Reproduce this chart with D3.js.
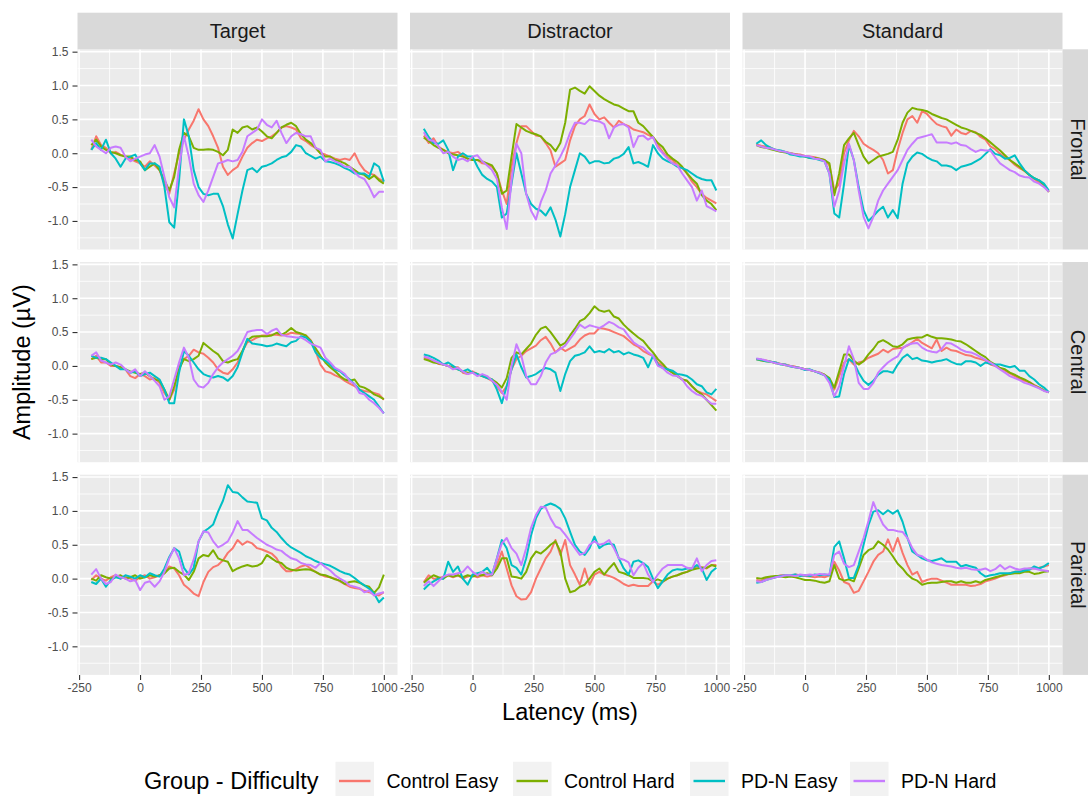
<!DOCTYPE html>
<html>
<head>
<meta charset="utf-8">
<script src="https://cdn.jsdelivr.net/npm/d3@7"></script>
<style>
  html, body { margin: 0; padding: 0; background: #ffffff; }
  svg { display: block; font-family: "Liberation Sans", Arial, Helvetica, sans-serif; }
</style>
</head>
<body>
<svg id="chart" width="1088" height="796"></svg>
<script>
// ---- Facets, groups and axis breaks ----
const conditions = ["Target", "Distractor", "Standard"];
const regions = ["Frontal", "Central", "Parietal"];
const groups = ["Control Easy", "Control Hard", "PD-N Easy", "PD-N Hard"];
const groupColors = ["#F8766D", "#7CAE00", "#00BFC4", "#C77CFF"];
const xTicks = [-250, 0, 250, 500, 750, 1000];
const xMinor = [-125, 125, 375, 625, 875];
const yTicks = [-1.0, -0.5, 0.0, 0.5, 1.0, 1.5];
const yMinor = [-1.25, -0.75, -0.25, 0.25, 0.75, 1.25];

// ---- Sample latencies (ms) ----
const latencyMs = [
  -200, -180, -160, -140, -120, -100, -80, -60, -40, -20,
  0, 20, 40, 60, 80, 100, 120, 140, 160, 180,
  200, 220, 240, 260, 280, 300, 320, 340, 360, 380,
  400, 420, 440, 460, 480, 500, 520, 540, 560, 580,
  600, 620, 640, 660, 680, 700, 720, 740, 760, 780,
  800, 820, 840, 860, 880, 900, 920, 940, 960, 980,
  1000
];

// ---- Grand-average amplitudes (µV) ----
// Target / Frontal
const tfCE = [0.05,0.25,0.12,0.08,0.00,0.02,-0.02,-0.05,-0.08,-0.12,
  -0.15,-0.20,-0.12,-0.18,-0.25,-0.45,-0.60,-0.30,0.00,0.20,
  0.35,0.48,0.65,0.50,0.40,0.25,0.08,-0.20,-0.32,-0.25,
  -0.20,-0.05,0.08,0.15,0.20,0.18,0.22,0.25,0.30,0.38,
  0.40,0.38,0.35,0.22,0.18,0.12,0.08,0.00,-0.02,-0.05,
  -0.08,-0.10,-0.08,-0.10,0.00,-0.15,-0.25,-0.30,-0.32,-0.38,
  -0.42];
const tfCH = [0.12,0.20,0.10,0.05,0.02,0.00,-0.03,-0.05,-0.05,-0.10,
  -0.12,-0.25,-0.20,-0.15,-0.25,-0.40,-0.55,-0.35,0.05,0.30,
  0.25,0.08,0.05,0.05,0.06,0.05,0.02,-0.03,0.05,0.35,
  0.30,0.38,0.40,0.35,0.38,0.32,0.25,0.22,0.30,0.38,
  0.42,0.45,0.40,0.28,0.20,0.15,0.08,0.00,-0.05,-0.05,
  -0.10,-0.12,-0.15,-0.20,-0.25,-0.30,-0.32,-0.38,-0.33,-0.40,
  -0.45];
const tfPE = [0.05,0.15,0.05,0.20,0.00,-0.08,-0.20,-0.08,-0.05,-0.02,
  -0.15,-0.25,-0.15,-0.15,-0.20,-0.50,-1.02,-1.10,-0.40,0.50,
  0.25,-0.25,-0.50,-0.60,-0.62,-0.60,-0.60,-0.78,-1.05,-1.26,
  -0.90,-0.55,-0.25,-0.22,-0.28,-0.20,-0.18,-0.15,-0.10,-0.06,
  -0.04,0.02,0.12,0.10,0.00,-0.04,-0.08,-0.05,-0.12,-0.13,
  -0.15,-0.18,-0.22,-0.25,-0.30,-0.30,-0.30,-0.35,-0.15,-0.20,
  -0.42];
const tfPH = [0.20,0.10,0.05,0.00,0.08,0.10,0.08,-0.05,-0.12,-0.08,
  -0.05,-0.02,0.00,0.12,-0.05,-0.35,-0.65,-0.80,-0.20,0.25,
  -0.05,-0.45,-0.62,-0.72,-0.55,-0.35,-0.15,-0.13,-0.10,-0.12,
  -0.10,0.02,0.25,0.30,0.35,0.50,0.42,0.38,0.48,0.30,
  0.15,0.25,0.30,0.28,0.25,0.25,0.08,0.05,-0.12,-0.08,
  -0.12,-0.15,-0.20,-0.20,-0.28,-0.35,-0.38,-0.50,-0.65,-0.57,
  -0.57];

// Distractor / Frontal
const dfCE = [0.26,0.15,0.22,0.10,0.05,0.02,0.00,0.02,-0.03,-0.08,
  -0.10,-0.10,-0.15,-0.16,-0.20,-0.30,-0.55,-0.75,-0.20,0.15,
  0.40,0.40,0.33,0.26,0.25,0.15,0.04,-0.20,-0.15,-0.10,
  0.19,0.40,0.50,0.55,0.72,0.58,0.50,0.53,0.45,0.38,
  0.48,0.43,0.40,0.35,0.33,0.31,0.27,0.24,0.12,0.02,
  -0.06,-0.10,-0.18,-0.22,-0.30,-0.42,-0.50,-0.60,-0.66,-0.70,
  -0.74];
const dfCH = [0.23,0.18,0.12,0.08,0.05,0.00,-0.02,-0.03,-0.05,-0.08,
  -0.10,-0.10,-0.12,-0.15,-0.18,-0.30,-0.60,-0.55,-0.05,0.43,
  0.38,0.33,0.30,0.28,0.25,0.17,0.12,0.03,0.15,0.45,
  0.94,0.97,0.92,0.88,0.99,0.92,0.85,0.80,0.76,0.72,
  0.70,0.66,0.62,0.62,0.45,0.40,0.32,0.24,0.15,0.09,
  -0.02,-0.08,-0.13,-0.20,-0.30,-0.38,-0.45,-0.62,-0.70,-0.75,
  -0.84];
const dfPE = [0.36,0.24,0.15,0.14,0.19,0.05,-0.25,-0.05,0.00,-0.05,
  -0.05,-0.20,-0.32,-0.38,-0.42,-0.50,-0.95,-0.89,-0.45,0.00,
  -0.30,-0.60,-0.75,-0.82,-0.85,-0.92,-0.80,-0.98,-1.23,-0.90,
  -0.50,-0.25,0.00,-0.05,-0.15,-0.12,-0.12,-0.15,-0.14,-0.08,
  -0.06,-0.01,0.09,-0.15,-0.13,-0.16,-0.20,0.12,0.00,-0.08,
  -0.12,-0.15,-0.20,-0.22,-0.25,-0.30,-0.35,-0.38,-0.40,-0.40,
  -0.55];
const dfPH = [0.31,0.20,0.18,0.10,0.00,0.02,-0.05,-0.10,-0.08,-0.12,
  -0.05,-0.03,-0.12,-0.18,-0.25,-0.38,-0.80,-1.12,-0.40,0.14,
  0.00,-0.60,-0.85,-0.98,-0.72,-0.55,-0.30,-0.18,-0.05,0.10,
  0.30,0.45,0.45,0.43,0.50,0.48,0.47,0.43,0.22,0.38,
  0.42,0.43,0.38,0.09,0.25,0.26,0.20,0.24,0.08,0.00,
  -0.08,-0.15,-0.18,-0.30,-0.40,-0.50,-0.70,-0.55,-0.78,-0.82,
  -0.86];

// Standard / Frontal
const sfCE = [0.13,0.11,0.10,0.08,0.05,0.03,0.02,0.00,-0.01,-0.02,
  -0.04,-0.05,-0.06,-0.08,-0.10,-0.18,-0.55,-0.45,0.00,0.19,
  0.33,0.25,0.14,0.09,0.05,0.00,-0.10,-0.30,-0.25,0.05,
  0.30,0.50,0.55,0.45,0.62,0.58,0.50,0.43,0.40,0.38,
  0.26,0.35,0.30,0.28,0.33,0.31,0.24,0.20,0.10,0.06,
  -0.01,-0.06,-0.10,-0.17,-0.22,-0.26,-0.32,-0.38,-0.43,-0.48,
  -0.57];
const sfCH = [0.12,0.09,0.08,0.06,0.04,0.02,0.01,0.00,-0.02,-0.03,
  -0.05,-0.07,-0.07,-0.08,-0.10,-0.15,-0.62,-0.30,0.12,0.22,
  0.30,0.12,-0.05,-0.15,-0.10,-0.05,-0.03,-0.01,0.02,0.20,
  0.45,0.60,0.67,0.65,0.64,0.62,0.58,0.55,0.52,0.50,
  0.46,0.42,0.38,0.36,0.33,0.30,0.27,0.22,0.16,0.10,
  0.04,-0.03,-0.10,-0.15,-0.20,-0.26,-0.32,-0.37,-0.40,-0.47,
  -0.57];
const sfPE = [0.14,0.19,0.12,0.08,0.05,0.04,0.02,-0.02,-0.03,-0.05,
  -0.05,-0.07,-0.08,-0.10,-0.12,-0.30,-0.89,-0.95,-0.45,0.12,
  -0.10,-0.50,-0.84,-1.00,-0.93,-0.85,-0.79,-0.95,-0.84,-0.96,
  -0.45,-0.15,-0.05,0.01,-0.01,-0.06,-0.10,-0.12,-0.18,-0.18,
  -0.20,-0.25,-0.20,-0.18,-0.16,-0.12,-0.08,-0.01,0.06,-0.01,
  -0.03,-0.08,-0.07,-0.03,-0.15,-0.25,-0.32,-0.37,-0.40,-0.45,
  -0.55];
const sfPH = [0.12,0.10,0.08,0.07,0.05,0.03,0.02,0.00,-0.02,-0.03,
  -0.04,-0.05,-0.08,-0.09,-0.12,-0.30,-0.79,-0.55,-0.15,0.14,
  -0.10,-0.55,-0.94,-1.11,-0.94,-0.70,-0.55,-0.45,-0.35,-0.25,
  -0.10,0.05,0.14,0.22,0.24,0.26,0.28,0.16,0.16,0.16,
  0.14,0.16,0.12,0.11,0.06,0.02,0.05,0.04,0.04,-0.06,
  -0.15,-0.20,-0.25,-0.28,-0.33,-0.35,-0.36,-0.42,-0.45,-0.50,
  -0.57];

// Target / Central
const tcCE = [0.10,0.15,0.05,0.05,0.00,0.00,-0.02,-0.05,-0.15,-0.18,
  -0.12,-0.15,-0.20,-0.18,-0.25,-0.40,-0.50,-0.35,0.00,0.10,
  0.15,0.24,0.20,0.18,0.12,0.05,-0.05,-0.10,-0.12,-0.05,
  0.05,0.22,0.35,0.38,0.42,0.45,0.45,0.46,0.46,0.45,
  0.46,0.49,0.48,0.47,0.45,0.38,0.22,0.02,-0.08,-0.10,
  -0.14,-0.17,-0.22,-0.26,-0.30,-0.35,-0.37,-0.38,-0.40,-0.42,
  -0.50];
const tcCH = [0.10,0.12,0.10,0.10,0.02,0.00,-0.02,-0.05,-0.08,-0.10,
  -0.12,-0.10,-0.15,-0.20,-0.22,-0.35,-0.50,-0.30,-0.05,0.10,
  0.07,0.10,0.15,0.34,0.28,0.22,0.17,0.07,0.05,0.08,
  0.10,0.22,0.38,0.43,0.44,0.44,0.44,0.45,0.49,0.46,
  0.50,0.56,0.50,0.48,0.45,0.37,0.26,0.15,0.05,-0.02,
  -0.08,-0.15,-0.20,-0.22,-0.20,-0.30,-0.32,-0.36,-0.42,-0.45,
  -0.49];
const tcPE = [0.15,0.12,0.12,0.10,0.05,0.00,-0.05,-0.05,-0.10,-0.08,
  -0.15,-0.12,-0.10,-0.15,-0.20,-0.35,-0.55,-0.55,-0.10,0.22,
  0.15,0.05,-0.05,-0.12,-0.15,-0.17,-0.15,-0.17,-0.22,-0.15,
  -0.02,0.20,0.40,0.33,0.32,0.31,0.29,0.30,0.33,0.31,
  0.29,0.35,0.37,0.44,0.42,0.36,0.20,0.12,0.08,0.02,
  -0.05,-0.08,-0.14,-0.20,-0.27,-0.35,-0.40,-0.45,-0.50,-0.60,
  -0.70];
const tcPH = [0.15,0.20,0.08,0.05,0.02,0.05,0.02,-0.05,-0.10,-0.05,
  -0.15,-0.08,-0.15,-0.22,-0.30,-0.50,-0.45,-0.20,0.05,0.27,
  0.12,-0.20,-0.30,-0.32,-0.25,-0.12,-0.02,0.05,0.10,0.15,
  0.22,0.35,0.50,0.52,0.53,0.53,0.47,0.52,0.55,0.46,
  0.44,0.43,0.42,0.42,0.38,0.33,0.30,0.27,0.12,0.05,
  -0.03,-0.07,-0.12,-0.22,-0.27,-0.40,-0.42,-0.50,-0.55,-0.62,
  -0.70];

// Distractor / Central
const dcCE = [0.12,0.10,0.08,0.03,0.02,0.00,-0.02,-0.02,-0.10,-0.12,
  -0.08,-0.12,-0.15,-0.18,-0.22,-0.30,-0.40,-0.30,-0.05,0.10,
  0.15,0.22,0.26,0.30,0.38,0.43,0.33,0.20,0.27,0.22,
  0.26,0.30,0.39,0.45,0.48,0.48,0.56,0.55,0.53,0.50,
  0.47,0.44,0.38,0.32,0.28,0.22,0.18,0.15,0.05,0.00,
  -0.05,-0.10,-0.14,-0.20,-0.22,-0.30,-0.37,-0.40,-0.42,-0.47,
  -0.52];
const dcCH = [0.10,0.08,0.05,0.04,0.02,0.00,-0.03,-0.05,-0.08,-0.10,
  -0.10,-0.12,-0.15,-0.17,-0.20,-0.25,-0.32,-0.18,0.12,0.20,
  0.17,0.25,0.33,0.46,0.55,0.58,0.50,0.40,0.30,0.34,
  0.45,0.55,0.66,0.70,0.78,0.88,0.82,0.80,0.82,0.73,
  0.70,0.61,0.54,0.48,0.42,0.37,0.28,0.20,0.10,0.03,
  -0.05,-0.10,-0.15,-0.20,-0.22,-0.30,-0.37,-0.42,-0.50,-0.58,
  -0.66];
const dcPE = [0.17,0.15,0.12,0.08,0.02,0.05,0.00,-0.05,-0.08,-0.05,
  -0.10,-0.12,-0.15,-0.18,-0.20,-0.35,-0.55,-0.30,-0.05,0.17,
  -0.02,-0.17,-0.15,-0.12,-0.07,-0.03,-0.05,-0.10,-0.37,-0.12,
  0.07,0.15,0.17,0.20,0.29,0.20,0.22,0.20,0.25,0.20,
  0.22,0.17,0.20,0.17,0.15,0.12,-0.02,0.15,0.02,-0.03,
  -0.05,-0.07,-0.12,-0.13,-0.15,-0.20,-0.27,-0.30,-0.39,-0.42,
  -0.34];
const dcPH = [0.14,0.12,0.08,0.05,0.02,0.00,-0.05,-0.03,-0.08,-0.12,
  -0.10,-0.15,-0.12,-0.15,-0.22,-0.28,-0.38,-0.50,0.00,0.32,
  0.15,-0.15,-0.27,-0.27,-0.15,0.05,0.17,0.20,0.25,0.30,
  0.40,0.50,0.61,0.56,0.60,0.58,0.56,0.60,0.65,0.62,
  0.57,0.54,0.44,0.35,0.30,0.27,0.20,0.15,0.00,-0.03,
  -0.10,-0.14,-0.15,-0.20,-0.30,-0.37,-0.42,-0.44,-0.50,-0.56,
  -0.56];

// Standard / Central
const scCE = [0.10,0.09,0.08,0.06,0.05,0.03,0.02,0.00,-0.01,-0.03,
  -0.05,-0.06,-0.08,-0.10,-0.13,-0.20,-0.35,-0.15,0.05,0.10,
  0.02,0.05,0.07,0.12,0.15,0.18,0.24,0.20,0.25,0.26,
  0.27,0.30,0.35,0.40,0.34,0.30,0.26,0.39,0.22,0.27,
  0.23,0.22,0.19,0.16,0.15,0.12,0.10,0.08,0.02,0.00,
  -0.04,-0.07,-0.11,-0.15,-0.19,-0.22,-0.24,-0.28,-0.32,-0.36,
  -0.39];
const scCH = [0.10,0.08,0.07,0.06,0.04,0.03,0.01,0.00,-0.02,-0.03,
  -0.05,-0.06,-0.08,-0.10,-0.13,-0.18,-0.32,-0.08,0.17,0.17,
  0.08,0.02,0.07,0.17,0.25,0.35,0.38,0.34,0.29,0.28,
  0.32,0.39,0.41,0.42,0.42,0.46,0.43,0.41,0.41,0.40,
  0.39,0.37,0.36,0.32,0.27,0.22,0.17,0.13,0.06,0.02,
  -0.03,-0.05,-0.10,-0.13,-0.17,-0.20,-0.24,-0.29,-0.32,-0.36,
  -0.39];
const scPE = [0.10,0.09,0.07,0.06,0.05,0.02,0.02,-0.01,-0.02,-0.03,
  -0.06,-0.05,-0.08,-0.11,-0.14,-0.20,-0.46,-0.45,-0.12,0.10,
  0.05,-0.10,-0.22,-0.28,-0.22,-0.13,-0.08,-0.08,-0.10,0.02,
  0.12,0.17,0.10,0.12,0.08,0.07,0.05,0.07,0.08,0.10,
  0.06,0.03,0.02,0.07,0.07,0.05,0.00,0.05,0.03,0.02,
  0.02,0.00,-0.02,0.00,-0.07,-0.07,-0.15,-0.20,-0.27,-0.32,
  -0.39];
const scPH = [0.11,0.10,0.08,0.06,0.04,0.03,0.01,0.00,-0.02,-0.03,
  -0.05,-0.06,-0.08,-0.10,-0.14,-0.25,-0.45,-0.30,0.00,0.29,
  0.10,-0.25,-0.34,-0.34,-0.25,-0.10,-0.02,0.05,0.10,0.14,
  0.26,0.31,0.33,0.34,0.27,0.23,0.21,0.20,0.25,0.34,
  0.33,0.29,0.24,0.21,0.20,0.17,0.13,0.09,0.05,0.00,
  -0.05,-0.10,-0.15,-0.18,-0.21,-0.25,-0.27,-0.30,-0.33,-0.37,
  -0.39];

// Target / Parietal
const tpCE = [-0.02,0.05,0.00,-0.03,0.02,0.05,0.00,0.03,0.00,-0.03,
  0.02,0.05,0.00,0.02,0.05,0.08,0.18,0.15,0.05,-0.09,
  -0.15,-0.22,-0.26,-0.05,0.10,0.17,0.20,0.27,0.38,0.45,
  0.57,0.50,0.55,0.52,0.45,0.43,0.40,0.37,0.30,0.18,
  0.11,0.11,0.14,0.18,0.20,0.15,0.10,0.06,0.03,0.02,
  0.00,-0.04,-0.08,-0.12,-0.14,-0.15,-0.18,-0.20,-0.23,-0.25,
  -0.20];
const tpCH = [0.00,-0.03,0.05,0.02,0.00,0.03,0.05,0.00,0.02,0.05,
  0.00,0.02,0.05,0.03,0.05,0.08,0.15,0.16,0.10,0.06,
  -0.02,0.10,0.30,0.35,0.33,0.42,0.30,0.27,0.25,0.11,
  0.15,0.18,0.20,0.18,0.19,0.23,0.35,0.30,0.25,0.23,
  0.16,0.13,0.12,0.13,0.14,0.13,0.10,0.06,0.05,0.02,
  -0.01,-0.03,-0.08,-0.05,-0.04,-0.06,-0.10,-0.12,-0.21,-0.13,
  0.06];
const tpPE = [-0.05,-0.08,0.00,-0.12,-0.02,0.02,0.00,0.05,0.03,0.00,
  0.05,0.02,0.08,0.05,0.03,0.15,0.32,0.45,0.40,0.16,
  0.06,0.16,0.55,0.69,0.74,0.80,0.99,1.15,1.38,1.28,
  1.27,1.20,1.14,1.13,1.12,0.89,0.86,0.75,0.69,0.60,
  0.52,0.46,0.42,0.38,0.33,0.30,0.26,0.23,0.21,0.19,
  0.15,0.11,0.08,0.06,0.01,-0.05,-0.10,-0.15,-0.22,-0.35,
  -0.28];
const tpPH = [0.06,0.14,0.00,-0.08,-0.05,0.06,0.02,0.00,-0.04,-0.02,
  -0.17,-0.06,-0.04,-0.12,-0.04,0.10,0.30,0.45,0.30,0.05,
  0.08,0.28,0.55,0.70,0.68,0.55,0.46,0.50,0.55,0.68,
  0.85,0.72,0.72,0.66,0.60,0.55,0.50,0.47,0.43,0.41,
  0.35,0.30,0.28,0.23,0.21,0.20,0.16,0.23,0.17,0.12,
  0.05,0.00,-0.04,-0.10,-0.12,-0.14,-0.20,-0.18,-0.25,-0.22,
  -0.20];

// Distractor / Parietal
const dpCE = [-0.05,0.05,0.00,0.00,0.03,0.05,0.02,0.05,0.00,0.03,
  0.05,0.02,0.05,0.03,0.05,0.20,0.40,0.15,-0.10,-0.26,
  -0.31,-0.30,-0.20,0.00,0.15,0.30,0.40,0.57,0.35,0.57,
  0.20,0.06,-0.09,0.15,-0.09,0.06,0.10,0.06,0.04,0.01,
  -0.03,-0.08,-0.11,-0.09,-0.11,-0.11,-0.11,-0.04,-0.09,-0.05,
  0.00,0.03,0.05,0.08,0.10,0.15,0.18,0.17,0.15,0.20,
  0.20];
const dpCH = [-0.06,0.00,0.05,0.02,0.00,0.05,0.03,0.05,0.02,0.05,
  0.03,0.05,0.05,0.08,0.05,0.15,0.30,0.30,0.03,0.02,
  0.00,0.10,0.30,0.40,0.37,0.43,0.50,0.55,0.40,0.00,
  -0.20,-0.18,-0.12,-0.09,0.00,0.10,0.15,0.06,0.15,0.23,
  0.10,0.08,0.05,0.01,0.01,0.01,0.00,-0.04,-0.01,-0.04,
  0.00,0.03,0.05,0.08,0.10,0.13,0.15,0.16,0.16,0.20,
  0.18];
const dpPE = [-0.16,-0.09,-0.04,0.00,0.00,0.25,0.10,0.18,0.00,-0.09,
  0.06,0.08,0.10,0.16,0.06,0.30,0.57,0.45,0.20,0.16,
  0.06,0.30,0.64,0.89,1.03,1.08,1.11,1.08,1.03,0.89,
  0.69,0.50,0.40,0.35,0.45,0.62,0.45,0.50,0.52,0.50,
  0.30,0.15,0.06,0.25,0.27,0.23,0.17,0.00,-0.14,-0.04,
  0.06,0.12,0.14,0.13,0.15,0.15,0.20,0.15,-0.02,0.10,
  0.16];
const dpPH = [-0.11,-0.04,-0.11,-0.04,0.03,0.06,0.06,0.08,0.10,0.18,
  0.10,0.05,0.10,0.06,0.06,0.30,0.52,0.60,0.45,0.37,
  0.20,0.45,0.75,0.94,1.06,1.05,0.89,0.77,0.74,0.65,
  0.55,0.45,0.35,0.38,0.50,0.55,0.50,0.52,0.57,0.45,
  0.30,0.28,0.24,0.05,0.16,0.23,0.06,-0.05,0.06,0.15,
  0.20,0.20,0.20,0.20,0.16,0.15,0.30,0.11,0.20,0.26,
  0.27];

// Standard / Parietal
const spCE = [-0.02,-0.03,0.00,0.02,0.03,0.05,0.05,0.04,0.06,0.05,
  0.04,0.03,0.02,0.03,0.02,0.05,0.25,0.12,-0.05,-0.08,
  -0.21,-0.18,-0.04,0.10,0.25,0.35,0.40,0.58,0.40,0.60,
  0.38,0.20,0.06,0.10,-0.05,-0.02,0.00,0.00,-0.03,-0.06,
  -0.09,-0.09,-0.09,-0.09,-0.11,-0.10,-0.08,-0.04,-0.02,0.00,
  0.03,0.05,0.08,0.10,0.11,0.13,0.15,0.15,0.16,0.18,
  0.20];
const spCH = [0.01,0.00,0.02,0.03,0.04,0.03,0.02,0.03,0.02,0.00,
  -0.02,-0.02,-0.03,-0.05,-0.06,-0.04,0.20,0.00,-0.03,-0.01,
  -0.04,0.15,0.35,0.42,0.45,0.55,0.50,0.43,0.33,0.22,
  0.15,0.06,0.00,-0.03,-0.09,-0.07,-0.06,-0.06,-0.05,-0.04,
  -0.04,-0.06,-0.04,-0.06,-0.06,-0.04,-0.06,-0.02,0.00,0.02,
  0.04,0.06,0.07,0.08,0.08,0.10,0.10,0.07,0.08,0.10,
  0.11];
const spPE = [-0.06,-0.05,-0.02,0.00,0.02,0.04,0.05,0.05,0.06,0.04,
  0.05,0.04,0.06,0.05,0.06,0.05,0.47,0.55,0.30,0.01,
  0.01,0.20,0.50,0.79,0.99,1.01,0.95,1.01,0.96,1.01,
  0.84,0.60,0.40,0.35,0.30,0.27,0.26,0.28,0.30,0.25,
  0.25,0.25,0.18,0.20,0.18,0.16,0.08,0.03,0.05,0.06,
  0.08,0.08,0.08,0.10,0.10,0.12,0.13,0.18,0.15,0.18,
  0.23];
const spPH = [-0.04,-0.05,-0.02,0.00,0.02,0.03,0.05,0.05,0.04,0.06,
  0.05,0.06,0.05,0.07,0.06,0.06,0.35,0.40,0.22,0.17,
  0.20,0.40,0.60,0.85,1.13,0.95,0.80,0.72,0.72,0.70,
  0.69,0.60,0.45,0.35,0.33,0.28,0.24,0.22,0.20,0.19,
  0.18,0.16,0.15,0.16,0.14,0.13,0.13,0.15,0.11,0.14,
  0.20,0.14,0.18,0.15,0.13,0.15,0.15,0.15,0.13,0.12,
  0.11];

// One entry per facet: [condition, region, series in group order]
const facetSeries = [
  ["Target", "Frontal", [tfCE, tfCH, tfPE, tfPH]],
  ["Distractor", "Frontal", [dfCE, dfCH, dfPE, dfPH]],
  ["Standard", "Frontal", [sfCE, sfCH, sfPE, sfPH]],
  ["Target", "Central", [tcCE, tcCH, tcPE, tcPH]],
  ["Distractor", "Central", [dcCE, dcCH, dcPE, dcPH]],
  ["Standard", "Central", [scCE, scCH, scPE, scPH]],
  ["Target", "Parietal", [tpCE, tpCH, tpPE, tpPH]],
  ["Distractor", "Parietal", [dpCE, dpCH, dpPE, dpPH]],
  ["Standard", "Parietal", [spCE, spCH, spPE, spPH]]
];

// ---- Layout ----
const svg = d3.select("#chart");
const panelW = 320, panelH = 200.2, gapX = 12.5, gapY = 12.5;
const left0 = 77.5, top0 = 49.3, stripH = 36.6;
const font = '"Liberation Sans", Arial, Helvetica, sans-serif';

const x = d3.scaleLinear().domain([-256.6, 1056]).range([0, panelW]);
const y = d3.scaleLinear().domain([-1.422, 1.535]).range([panelH, 0]);
const color = d3.scaleOrdinal().domain(groups).range(groupColors);

const line = d3.line()
  .x((v, i) => x(latencyMs[i]))
  .y(v => y(v));

const panelX = c => left0 + c * (panelW + gapX);
const panelY = r => top0 + r * (panelH + gapY);

function styleAxis(ax) {
  ax.select(".domain").remove();
  ax.attr("font-family", font).attr("font-size", 12);
  ax.selectAll(".tick line").attr("stroke", "#333333").attr("stroke-width", 1.1);
  ax.selectAll(".tick text").attr("fill", "#4D4D4D");
}

facetSeries.forEach(([cond, region, series]) => {
  const c = conditions.indexOf(cond);
  const r = regions.indexOf(region);
  const g = svg.append("g").attr("transform", `translate(${panelX(c)},${panelY(r)})`);

  g.append("rect").attr("width", panelW).attr("height", panelH).attr("fill", "#EBEBEB");

  // minor grid
  g.selectAll("line.vmin").data(xMinor).join("line")
    .attr("x1", d => x(d)).attr("x2", d => x(d)).attr("y1", 0).attr("y2", panelH)
    .attr("stroke", "#ffffff").attr("stroke-width", 0.8);
  g.selectAll("line.hmin").data(yMinor).join("line")
    .attr("y1", d => y(d)).attr("y2", d => y(d)).attr("x1", 0).attr("x2", panelW)
    .attr("stroke", "#ffffff").attr("stroke-width", 0.8);
  // major grid
  g.selectAll("line.vmaj").data(xTicks).join("line")
    .attr("x1", d => x(d)).attr("x2", d => x(d)).attr("y1", 0).attr("y2", panelH)
    .attr("stroke", "#ffffff").attr("stroke-width", 1.6);
  g.selectAll("line.hmaj").data(yTicks).join("line")
    .attr("y1", d => y(d)).attr("y2", d => y(d)).attr("x1", 0).attr("x2", panelW)
    .attr("stroke", "#ffffff").attr("stroke-width", 1.6);

  // waveforms, drawn in group order
  series.forEach((vals, k) => {
    g.append("path")
      .attr("d", line(vals))
      .attr("fill", "none")
      .attr("stroke", color(groups[k]))
      .attr("stroke-width", 2)
      .attr("stroke-linejoin", "round");
  });

  if (c === 0) {
    const ax = g.append("g").call(
      d3.axisLeft(y).tickValues(yTicks).tickSize(5).tickPadding(4).tickFormat(d => d.toFixed(1))
    );
    styleAxis(ax);
  }
  if (r === regions.length - 1) {
    const ax = g.append("g").attr("transform", `translate(0,${panelH})`).call(
      d3.axisBottom(x).tickValues(xTicks).tickSize(5).tickPadding(4).tickFormat(d => String(d))
    );
    styleAxis(ax);
  }
});

// column strips
conditions.forEach((cond, c) => {
  const g = svg.append("g").attr("transform", `translate(${panelX(c)},${top0 - stripH})`);
  g.append("rect").attr("width", panelW).attr("height", stripH).attr("fill", "#D9D9D9");
  g.append("text").attr("x", panelW / 2).attr("y", stripH / 2 + 7)
    .attr("text-anchor", "middle").attr("font-size", 20).attr("fill", "#1A1A1A")
    .text(cond);
});

// row strips
regions.forEach((reg, r) => {
  const xs = panelX(conditions.length - 1) + panelW;
  const g = svg.append("g").attr("transform", `translate(${xs},${panelY(r)})`);
  g.append("rect").attr("width", stripH).attr("height", panelH).attr("fill", "#D9D9D9");
  g.append("text")
    .attr("transform", `translate(${stripH / 2 - 9.5},${panelH / 2}) rotate(90)`)
    .attr("text-anchor", "middle").attr("font-size", 20).attr("fill", "#1A1A1A")
    .text(reg);
});

// axis titles
const plotLeft = left0, plotRight = panelX(2) + panelW;
const plotTop = top0, plotBottom = panelY(2) + panelH;
svg.append("text")
  .attr("x", (plotLeft + plotRight) / 2).attr("y", 720)
  .attr("text-anchor", "middle").attr("font-size", 23.5).attr("fill", "#000000")
  .text("Latency (ms)");
svg.append("text")
  .attr("transform", `translate(30,${(plotTop + plotBottom) / 2}) rotate(-90)`)
  .attr("text-anchor", "middle").attr("font-size", 23.5).attr("fill", "#000000")
  .text("Amplitude (µV)");

// legend
const legendY = 781;
const keySize = 38.5;
const keyX = [335.5, 513, 690, 850];
const legend = svg.append("g");
legend.append("text")
  .attr("x", 144).attr("y", legendY + 8)
  .attr("font-size", 23.5).attr("fill", "#000000")
  .text("Group - Difficulty");
groups.forEach((grp, k) => {
  legend.append("rect")
    .attr("x", keyX[k]).attr("y", legendY - keySize / 2)
    .attr("width", keySize).attr("height", keySize).attr("fill", "#F2F2F2");
  legend.append("line")
    .attr("x1", keyX[k] + 3.5).attr("x2", keyX[k] + keySize - 3.5)
    .attr("y1", legendY).attr("y2", legendY)
    .attr("stroke", color(grp)).attr("stroke-width", 2.4);
  legend.append("text")
    .attr("x", keyX[k] + keySize + 12.5).attr("y", legendY + 7)
    .attr("font-size", 19.5).attr("fill", "#000000")
    .text(grp);
});
</script>
</body>
</html>
